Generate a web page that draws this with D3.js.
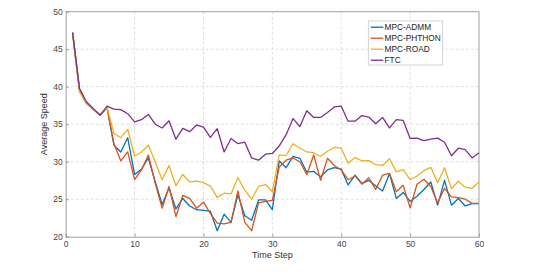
<!DOCTYPE html>
<html><head><meta charset="utf-8">
<script src="https://cdn.jsdelivr.net/npm/d3@7"></script>
<style>body{margin:0;background:#fff;}svg{display:block;font-family:"Liberation Sans",Arial,sans-serif;}</style>
</head><body><svg id="c" width="534" height="275"></svg>
<script>
const timeSteps = d3.range(1, 61);
const seriesNames = ["MPC-ADMM", "MPC-PHTHON", "MPC-ROAD", "FTC"];
const colors = ["#0072BD", "#D95319", "#EDB120", "#7E2F8E"];
const admm = [47.2,39.5,37.8,37.0,36.2,37.2,32.2,31.3,33.2,28.3,29.0,30.5,27.3,24.3,26.5,23.7,25.1,24.1,23.6,23.5,
  23.4,20.8,23.0,21.9,25.6,22.8,22.2,24.9,24.9,23.6,30.1,29.2,30.7,30.45,28.6,28.7,28.0,28.9,29.2,29.0,
  26.9,28.2,27.1,27.5,26.8,26.1,28.4,25.1,25.9,24.7,25.4,26.3,27.3,24.2,27.5,24.2,25.1,24.1,24.4,24.4];
const phthon = [47.2,39.6,37.8,37.0,36.2,37.2,32.4,30.1,31.3,27.6,28.9,30.9,27.1,23.8,26.7,22.7,25.5,25.1,23.8,24.6,
  23.1,21.8,21.7,21.9,26.1,21.9,20.8,24.5,24.7,24.85,29.3,30.2,30.5,30.0,28.3,30.9,27.5,30.45,29.5,28.9,
  27.6,28.1,27.0,27.85,26.3,28.2,28.45,26.0,26.85,23.85,27.0,27.65,26.7,24.5,26.45,25.3,25.2,25.0,24.45,24.45];
const road = [47.2,39.3,37.8,37.0,36.2,37.2,33.8,33.2,34.3,30.76,31.3,32.2,30.0,27.6,29.5,26.8,28.3,27.3,27.4,27.2,
  26.75,25.25,25.8,25.7,27.9,26.2,25.0,26.7,26.95,26.0,30.9,30.8,32.4,31.8,31.3,31.2,30.7,31.4,31.9,31.8,
  29.8,30.55,30.1,30.15,29.6,29.5,30.4,28.65,28.95,27.6,28.1,28.8,29.25,27.2,29.2,26.4,27.4,26.6,26.45,27.3];
const ftc = [47.2,39.8,38.0,37.1,36.2,37.4,37.0,36.95,36.4,35.3,35.6,36.3,35.0,34.5,35.45,33.0,34.45,34.0,34.9,34.6,
  33.25,34.4,31.3,33.1,32.4,32.6,30.5,30.2,31.0,31.1,32.1,33.6,35.75,34.7,36.8,35.9,35.9,36.55,37.3,37.4,
  35.4,35.4,36.15,35.95,35.05,35.9,34.5,35.6,35.5,33.1,33.15,32.8,33.0,33.15,32.6,30.8,31.8,31.6,30.5,31.2];
const seriesValues = [admm, phthon, road, ftc];
const xTicks = [0,10,20,30,40,50,60];
const yTicks = [20,25,30,35,40,45,50];

const svg = d3.select("#c");
const L = 65.7, R = 479, T = 11.7, B = 236.7;
const x = d3.scaleLinear().domain([0,60]).range([L,R]);
const y = d3.scaleLinear().domain([20,50]).range([B,T]);

// grid
const grid = svg.append("g");
grid.selectAll(".gx").data(xTicks.slice(1,-1)).join("line")
  .attr("x1",d=>x(d)).attr("x2",d=>x(d)).attr("y1",T).attr("y2",B)
  .attr("stroke","#d8d8d8").attr("stroke-width",0.8).attr("stroke-dasharray","3,2");
grid.selectAll(".gy").data(yTicks.slice(1,-1)).join("line")
  .attr("y1",d=>y(d)).attr("y2",d=>y(d)).attr("x1",L).attr("x2",R)
  .attr("stroke","#d8d8d8").attr("stroke-width",0.8).attr("stroke-dasharray","3,2");

// axes
const tc = "#444";
const xa = svg.append("g").attr("transform",`translate(0,${B})`)
  .call(d3.axisBottom(x).tickValues(xTicks).tickSize(-3).tickPadding(4.5).tickFormat(d3.format("d")));
const ya = svg.append("g").attr("transform",`translate(${L},0)`)
  .call(d3.axisLeft(y).tickValues(yTicks).tickSize(-3).tickPadding(3).tickFormat(d3.format("d")));
[xa,ya].forEach(a=>{
  a.select(".domain").attr("stroke","#a0a0a0");
  a.selectAll(".tick line").attr("stroke","#a0a0a0");
  a.selectAll("text").attr("fill",tc).attr("font-size","8.5px").attr("font-family","'Liberation Sans',Arial,sans-serif");
});
svg.append("line").attr("x1",L).attr("x2",R).attr("y1",T).attr("y2",T).attr("stroke","#a0a0a0");
svg.append("line").attr("x1",R).attr("x2",R).attr("y1",T).attr("y2",B).attr("stroke","#a0a0a0");

// lines
const line = d3.line().x((d,i)=>x(timeSteps[i])).y(d=>y(d));
seriesValues.forEach((vals,i)=>{
  svg.append("path").datum(vals).attr("d",line).attr("fill","none")
    .attr("stroke",colors[i]).attr("stroke-width",1.3).attr("stroke-linejoin","round");
});

// labels
svg.append("text").attr("x",(L+R)/2).attr("y",258).attr("text-anchor","middle")
  .attr("font-size","9px").attr("fill","#333").text("Time Step");
svg.append("text").attr("transform",`translate(47,${(T+B)/2}) rotate(-90)`).attr("text-anchor","middle")
  .attr("font-size","9px").attr("fill","#333").text("Average Speed");

// legend
const lg = svg.append("g");
lg.append("rect").attr("x",368.3).attr("y",21).attr("width",74.4).attr("height",44)
  .attr("fill","#fff").attr("stroke","#c8c8c8").attr("stroke-width",0.8);
seriesNames.forEach((n,i)=>{
  const yy = 27.2 + i*11;
  lg.append("line").attr("x1",370.7).attr("x2",383.3).attr("y1",yy).attr("y2",yy)
    .attr("stroke",colors[i]).attr("stroke-width",1.3);
  lg.append("text").attr("x",384.5).attr("y",yy+3).attr("font-size","8.3px").attr("fill","#222").text(n);
});
</script></body></html>
